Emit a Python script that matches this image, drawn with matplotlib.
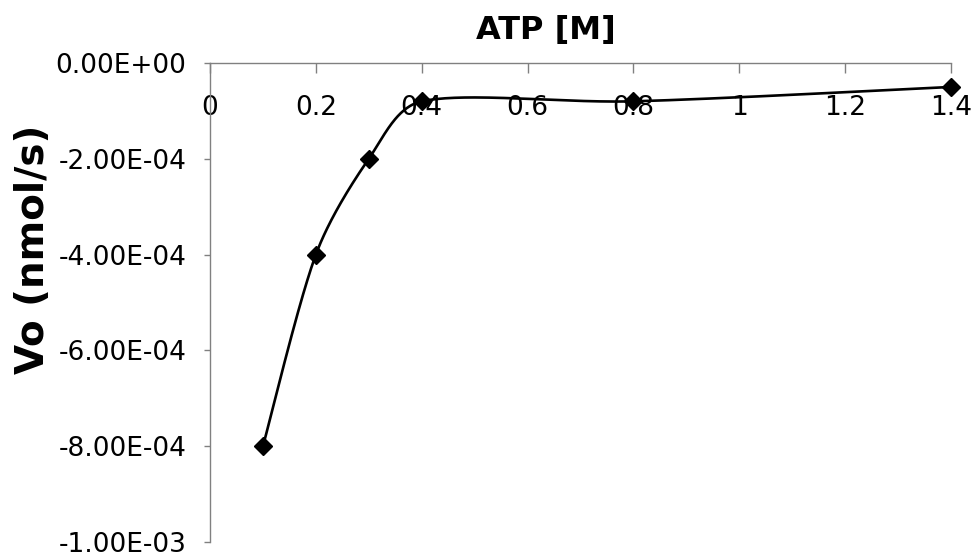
import numpy as np
import matplotlib
matplotlib.use("Agg")
import matplotlib.pyplot as plt
from matplotlib.ticker import FuncFormatter, FixedLocator

# Data
atp = [0.1, 0.2, 0.3, 0.4, 0.8, 1.4]
vo = [-8.0e-4, -4.0e-4, -2.0e-4, -8.0e-5, -8.0e-5, -5.0e-5]
x_ticks = [0, 0.2, 0.4, 0.6, 0.8, 1.0, 1.2, 1.4]
y_ticks = [0.0, -2e-4, -4e-4, -6e-4, -8e-4, -1e-3]

XMIN, XMAX = 0.0, 1.4
YMIN, YMAX = -1e-3, 0.0

fig = plt.figure(figsize=(9.78, 5.6), dpi=100)
L, R, T, B = 210, 951, 63, 542
ax = fig.add_axes([L / 978, 1 - B / 560, (R - L) / 978, (B - T) / 560])

# Excel-like smoothed line (Bezier in screen-normalized space)
def smooth(xs, ys, n=60):
    sx = (R - L) / (XMAX - XMIN)
    sy = (B - T) / (YMAX - YMIN)
    P = np.column_stack([np.asarray(xs) * sx, np.asarray(ys) * sy])
    out = []
    for i in range(len(P) - 1):
        p0 = P[i - 1] if i > 0 else P[i]
        p1 = P[i]
        p2 = P[i + 1]
        p3 = P[i + 2] if i + 2 < len(P) else P[i + 1]
        seg = np.linalg.norm(p2 - p1)
        t1 = (p2 - p0) / 6.0
        t2 = (p3 - p1) / 6.0
        n1, n2 = np.linalg.norm(t1), np.linalg.norm(t2)
        if n1 > seg / 3:
            t1 = t1 / n1 * seg / 3
        if n2 > seg / 3:
            t2 = t2 / n2 * seg / 3
        c1 = p1 + t1
        c2 = p2 - t2
        t = np.linspace(0, 1, n)[:, None]
        b = ((1 - t) ** 3) * p1 + 3 * ((1 - t) ** 2) * t * c1 + 3 * (1 - t) * t ** 2 * c2 + t ** 3 * p2
        out.append(b if i == 0 else b[1:])
    S = np.vstack(out)
    return S[:, 0] / sx, S[:, 1] / sy

cx, cy = smooth(atp, vo)
ax.plot(cx, cy, color="black", lw=1.9, zorder=3, solid_capstyle="round")
ax.plot(atp, vo, linestyle="none", marker="D", ms=9, color="black", zorder=4,
        clip_on=False)

ax.set_xlim(XMIN, XMAX)
ax.set_ylim(YMIN, YMAX)

for s in ("top", "right"):
    ax.spines[s].set_visible(False)
ax.spines["bottom"].set_position(("data", 0))
for s in ("bottom", "left"):
    ax.spines[s].set_color("#808080")
    ax.spines[s].set_linewidth(1.0)

ax.xaxis.set_major_locator(FixedLocator(x_ticks))
ax.yaxis.set_major_locator(FixedLocator(y_ticks))
ax.xaxis.set_major_formatter(FuncFormatter(lambda v, p: "%g" % v))
ax.yaxis.set_major_formatter(FuncFormatter(lambda v, p: "0.00E+00" if v == 0 else "%.2E" % v))

ax.tick_params(axis="x", direction="out", length=7, width=1, color="#808080",
               labelsize=19, pad=16)
ax.tick_params(axis="y", direction="out", length=4, width=1, color="#808080",
               labelsize=19, pad=13)

fig.text(546 / 978, 1 - 30 / 560, "ATP [M]", ha="center", va="center",
         fontsize=23, fontweight="bold")
fig.text(33 / 978, 1 - 249 / 560, "Vo (nmol/s)", ha="center", va="center",
         rotation=90, fontsize=28, fontweight="bold")

fig.savefig("out.png", dpi=100)
